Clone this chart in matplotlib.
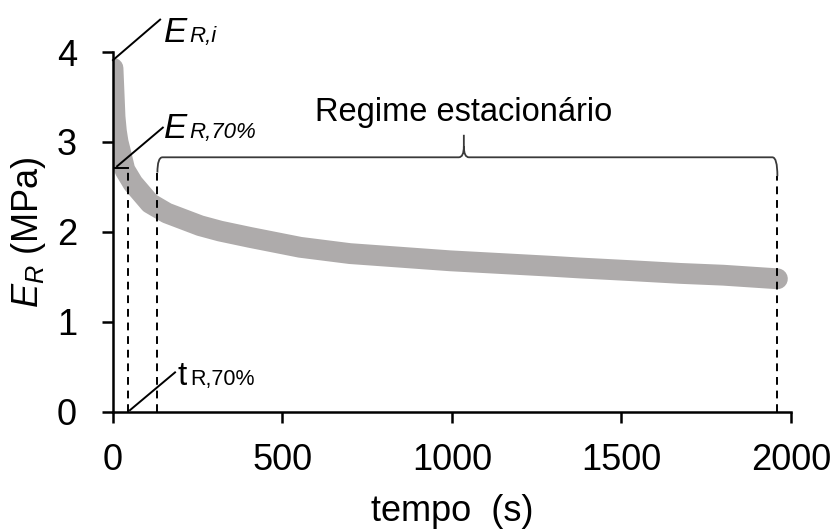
import matplotlib
matplotlib.use("Agg")
import matplotlib.pyplot as plt
from matplotlib.path import Path
from matplotlib.patches import PathPatch

plt.rcParams['font.family'] = ['Liberation Sans', 'DejaVu Sans']
plt.rcParams['mathtext.fontset'] = 'custom'
plt.rcParams['mathtext.it'] = 'Liberation Sans:italic'
plt.rcParams['mathtext.rm'] = 'Liberation Sans'

# Relaxation modulus over time
tempo = [0, 3, 6, 10, 15, 21, 35, 59, 109, 159, 257, 316, 404, 552, 699,
         847, 994, 1142, 1289, 1378, 1530, 1673, 1800, 1960]
modulo = [3.82, 3.55, 3.28, 3.12, 3.00, 2.91, 2.69, 2.54, 2.32, 2.21, 2.07,
          2.01, 1.94, 1.83, 1.76, 1.72, 1.68, 1.65, 1.62, 1.60, 1.57, 1.54,
          1.52, 1.48]

# Characteristic instants / values
t_70 = 45
E_70 = 2.71
t_inicio_estac = 131
t_fim = 1960
E_chave = 2.83

x_ticks = [0, 500, 1000, 1500, 2000]
y_ticks = [0, 1, 2, 3, 4]

fig = plt.figure(figsize=(8.37, 5.29), dpi=100)
ax = fig.add_axes([0.135, 0.2212, 0.810, 0.6805])

ax.plot(tempo, modulo, color='#aeabab', lw=15, solid_capstyle='round',
        solid_joinstyle='round', zorder=2)

ax.set_xlim(0, 2000)
ax.set_ylim(0, 4)
ax.set_xticks(x_ticks)
ax.set_yticks(y_ticks)
for s in ['top', 'right']:
    ax.spines[s].set_visible(False)
for s in ['left', 'bottom']:
    ax.spines[s].set_linewidth(1.8)
    ax.spines[s].set_zorder(5)
ax.tick_params(axis='both', length=8, width=1.8, labelsize=26, direction='out')
ax.tick_params(axis='x', pad=14)
ax.tick_params(axis='y', pad=18)

ax.set_xlabel('tempo  (s)', fontsize=26, labelpad=12)
ax.set_ylabel(r'$E_R$ (MPa)', fontsize=26, labelpad=6)

# dashed guide lines
dash = dict(color='black', lw=1.4, ls=(0, (4, 3)), zorder=3)
ax.plot([t_70, t_70], [0, E_70], **dash)
ax.plot([t_inicio_estac, t_inicio_estac], [0, 2.66], **dash)
ax.plot([t_fim, t_fim], [0, 2.62], **dash)
ax.plot([0, t_70], [E_70, E_70], color='black', lw=1.4, zorder=3)

# curly bracket over the steady-state region
t_meio = 1035
dx = 15
verts = [
    (t_inicio_estac, 2.66), (t_inicio_estac, E_chave), (t_inicio_estac + dx, E_chave),
    (t_meio - dx, E_chave),
    (t_meio, E_chave), (t_meio, 2.95),
    (t_meio, 3.08),
    (t_meio, 2.95),
    (t_meio, E_chave), (t_meio + dx, E_chave),
    (t_fim - dx, E_chave),
    (t_fim, E_chave), (t_fim, 2.62),
]
codes = [Path.MOVETO, Path.CURVE3, Path.CURVE3, Path.LINETO, Path.CURVE3,
         Path.CURVE3, Path.LINETO, Path.MOVETO, Path.CURVE3, Path.CURVE3,
         Path.LINETO, Path.CURVE3, Path.CURVE3]
ax.add_patch(PathPatch(Path(verts, codes), fill=False, edgecolor='#3a3a3a',
                       lw=1.3, zorder=3, clip_on=False))
ax.text(t_meio, 3.33, 'Regime estacionário', fontsize=23.5, ha='center',
        va='center')

# leader lines
lead = dict(color='black', lw=1.4, clip_on=False, zorder=4)
ax.plot([0, 139], [3.91, 4.36], **lead)
ax.plot([12, 147], [2.73, 3.16], **lead)
ax.plot([50, 183], [0.02, 0.44], **lead)

# labels on leaders
ax.text(150, 4.11, 'E', fontsize=25, style='italic', va='baseline',
        clip_on=False)
ax.text(226, 4.11, 'R,i', fontsize=16, style='italic', va='baseline',
        clip_on=False)
ax.text(150, 3.04, 'E', fontsize=25, style='italic', va='baseline',
        clip_on=False)
ax.text(226, 3.04, 'R,70%', fontsize=16, style='italic', va='baseline',
        clip_on=False)
ax.text(190, 0.30, 't', fontsize=24, va='baseline')
ax.text(228, 0.30, 'R,70%', fontsize=15.5, va='baseline')

fig.savefig('out.png', dpi=100)
